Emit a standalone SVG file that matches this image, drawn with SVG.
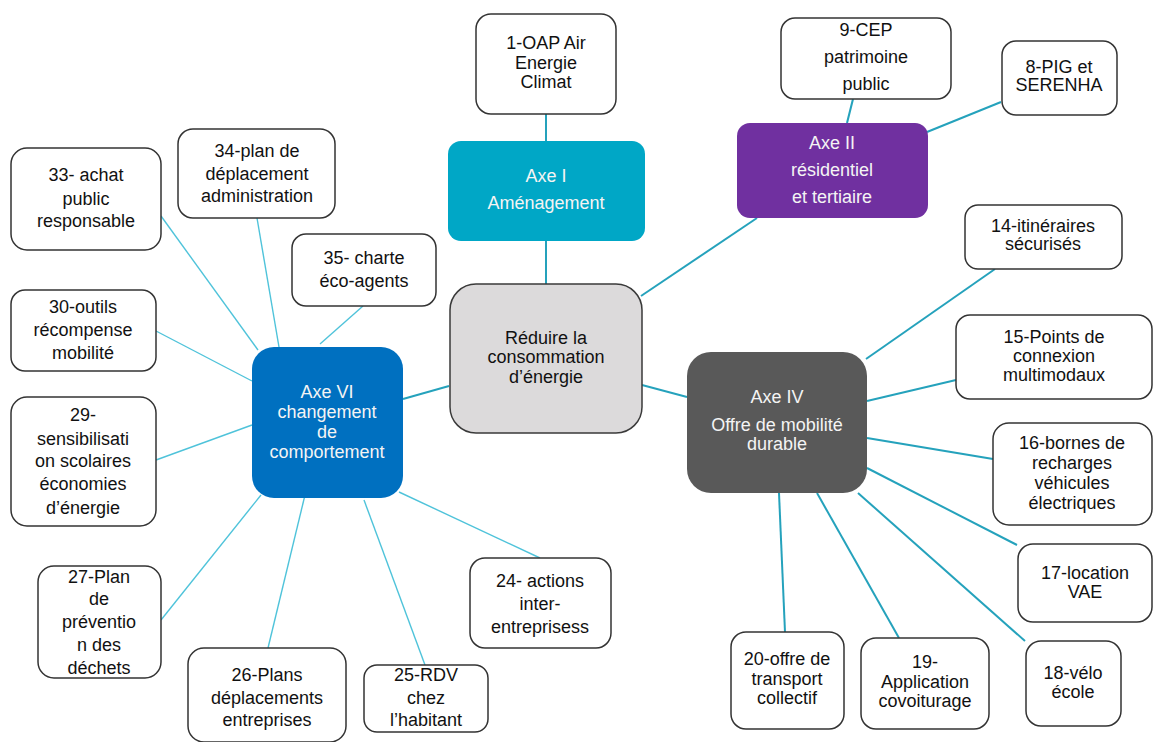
<svg xmlns="http://www.w3.org/2000/svg" width="1154" height="742" viewBox="0 0 1154 742">
<style>
text{font-family:"Liberation Sans",Arial,sans-serif;font-size:18px;text-anchor:middle}
.leaf rect{fill:#fff;stroke:#333;stroke-width:1.5}
.leaf text{fill:#111}
.axe text{fill:#f4f4f4}
.c1{stroke:#25a2bc;stroke-width:2;fill:none}
.c2{stroke:#4fc3da;stroke-width:1.4;fill:none}
</style>
<rect width="1154" height="742" fill="#fff"/>
<g id="connectors">
<line class="c1" x1="546" y1="114" x2="546" y2="141"/>
<line class="c1" x1="546" y1="241" x2="546" y2="284"/>
<line class="c1" x1="853" y1="99" x2="847" y2="123"/>
<line class="c1" x1="1001" y1="102" x2="927" y2="132"/>
<line class="c1" x1="757" y1="218" x2="641" y2="296"/>
<line class="c1" x1="642" y1="385" x2="687" y2="397"/>
<line class="c1" x1="449" y1="386" x2="403" y2="399"/>
<line class="c1" x1="995" y1="269" x2="866" y2="359"/>
<line class="c1" x1="956" y1="380" x2="867" y2="401"/>
<line class="c1" x1="993" y1="459" x2="867" y2="438"/>
<line class="c1" x1="1017" y1="545" x2="867" y2="468"/>
<line class="c1" x1="1025" y1="641" x2="858" y2="493"/>
<line class="c1" x1="899" y1="638" x2="817" y2="493"/>
<line class="c1" x1="785" y1="632" x2="779" y2="493"/>
<line class="c2" x1="161" y1="216" x2="258" y2="350"/>
<line class="c2" x1="257" y1="218" x2="279" y2="347"/>
<line class="c2" x1="363" y1="306" x2="320" y2="344"/>
<line class="c2" x1="156" y1="331" x2="252" y2="381"/>
<line class="c2" x1="156" y1="460" x2="252" y2="425"/>
<line class="c2" x1="161" y1="620" x2="261" y2="495"/>
<line class="c2" x1="268" y1="648" x2="305" y2="495"/>
<line class="c2" x1="425" y1="665" x2="364" y2="500"/>
<line class="c2" x1="540" y1="558" x2="399" y2="492"/>
</g>
<g id="center">
<rect x="450" y="284" width="192" height="149" rx="26" fill="#dcdadb" stroke="#3a3a3a" stroke-width="1.5"/>
<text x="546" y="344" fill="#111">Réduire la</text>
<text x="546" y="363" fill="#111">consommation</text>
<text x="546" y="383" fill="#111">d’énergie</text>
</g>
<g id="axe1" class="axe">
<rect x="448" y="141" width="197" height="100" rx="13" fill="#00a7c6"/>
<text x="546" y="182">Axe I</text>
<text x="546" y="209">Aménagement</text>
</g>
<g id="axe2" class="axe">
<rect x="737" y="123" width="191" height="95" rx="13" fill="#7030a0"/>
<text x="832" y="149">Axe II</text>
<text x="832" y="176">résidentiel</text>
<text x="832" y="203">et tertiaire</text>
</g>
<g id="axe4" class="axe">
<rect x="687" y="352" width="180" height="141" rx="24" fill="#595959"/>
<text x="777" y="403">Axe IV</text>
<text x="777" y="431">Offre de mobilité</text>
<text x="777" y="450">durable</text>
</g>
<g id="axe6" class="axe">
<rect x="252" y="347" width="151" height="151" rx="22" fill="#0070c0"/>
<text x="327" y="398">Axe VI</text>
<text x="327" y="418">changement</text>
<text x="327" y="438">de</text>
<text x="327" y="458">comportement</text>
</g>
<g id="n1" class="leaf">
<rect x="476" y="14" width="140" height="100" rx="15"/>
<text x="546" y="49">1-OAP Air</text>
<text x="546" y="69">Energie</text>
<text x="546" y="88">Climat</text>
</g>
<g id="n9" class="leaf">
<rect x="781" y="18" width="170" height="81" rx="14"/>
<text x="866" y="36">9-CEP</text>
<text x="866" y="63">patrimoine</text>
<text x="866" y="90">public</text>
</g>
<g id="n8" class="leaf">
<rect x="1002" y="41" width="115" height="74" rx="14"/>
<text x="1059" y="73">8-PIG et</text>
<text x="1059" y="91">SERENHA</text>
</g>
<g id="n33" class="leaf">
<rect x="11" y="148" width="150" height="102" rx="16"/>
<text x="86" y="181">33- achat</text>
<text x="86" y="205">public</text>
<text x="86" y="227">responsable</text>
</g>
<g id="n34" class="leaf">
<rect x="178" y="129" width="157" height="89" rx="15"/>
<text x="257" y="157">34-plan de</text>
<text x="257" y="180">déplacement</text>
<text x="257" y="202">administration</text>
</g>
<g id="n35" class="leaf">
<rect x="292" y="234" width="144" height="72" rx="14"/>
<text x="364" y="264">35- charte</text>
<text x="364" y="287">éco-agents</text>
</g>
<g id="n30" class="leaf">
<rect x="11" y="290" width="145" height="81" rx="14"/>
<text x="83" y="313">30-outils</text>
<text x="83" y="336">récompense</text>
<text x="83" y="359">mobilité</text>
</g>
<g id="n29" class="leaf">
<rect x="11" y="397" width="145" height="129" rx="16"/>
<text x="83" y="421">29-</text>
<text x="83" y="445">sensibilisati</text>
<text x="83" y="467">on scolaires</text>
<text x="83" y="490">économies</text>
<text x="83" y="514">d’énergie</text>
</g>
<g id="n27" class="leaf">
<rect x="38" y="566" width="123" height="112" rx="16"/>
<text x="99" y="583">27-Plan</text>
<text x="99" y="605">de</text>
<text x="99" y="628">préventio</text>
<text x="99" y="651">n des</text>
<text x="99" y="674">déchets</text>
</g>
<g id="n26" class="leaf">
<rect x="188" y="648" width="158" height="94" rx="16"/>
<text x="267" y="681">26-Plans</text>
<text x="267" y="704">déplacements</text>
<text x="267" y="726">entreprises</text>
</g>
<g id="n25" class="leaf">
<rect x="364" y="665" width="124" height="67" rx="13"/>
<text x="426" y="681">25-RDV</text>
<text x="426" y="704">chez</text>
<text x="426" y="726">l’habitant</text>
</g>
<g id="n24" class="leaf">
<rect x="470" y="558" width="141" height="90" rx="15"/>
<text x="540" y="587">24- actions</text>
<text x="540" y="610">inter-</text>
<text x="540" y="633">entreprisess</text>
</g>
<g id="n14" class="leaf">
<rect x="965" y="205" width="157" height="64" rx="13"/>
<text x="1043" y="232">14-itinéraires</text>
<text x="1043" y="250">sécurisés</text>
</g>
<g id="n15" class="leaf">
<rect x="956" y="315" width="196" height="84" rx="14"/>
<text x="1054" y="343">15-Points de</text>
<text x="1054" y="362">connexion</text>
<text x="1054" y="381">multimodaux</text>
</g>
<g id="n16" class="leaf">
<rect x="993" y="423" width="159" height="102" rx="16"/>
<text x="1072" y="449">16-bornes de</text>
<text x="1072" y="469">recharges</text>
<text x="1072" y="489">véhicules</text>
<text x="1072" y="509">électriques</text>
</g>
<g id="n17" class="leaf">
<rect x="1018" y="544" width="134" height="78" rx="15"/>
<text x="1085" y="579">17-location</text>
<text x="1085" y="598">VAE</text>
</g>
<g id="n18" class="leaf">
<rect x="1026" y="641" width="95" height="85" rx="15"/>
<text x="1073" y="679">18-vélo</text>
<text x="1073" y="698">école</text>
</g>
<g id="n19" class="leaf">
<rect x="861" y="638" width="128" height="91" rx="15"/>
<text x="925" y="668">19-</text>
<text x="925" y="688">Application</text>
<text x="925" y="707">covoiturage</text>
</g>
<g id="n20" class="leaf">
<rect x="731" y="632" width="113" height="97" rx="15"/>
<text x="787" y="665">20-offre de</text>
<text x="787" y="685">transport</text>
<text x="787" y="704">collectif</text>
</g>
</svg>
